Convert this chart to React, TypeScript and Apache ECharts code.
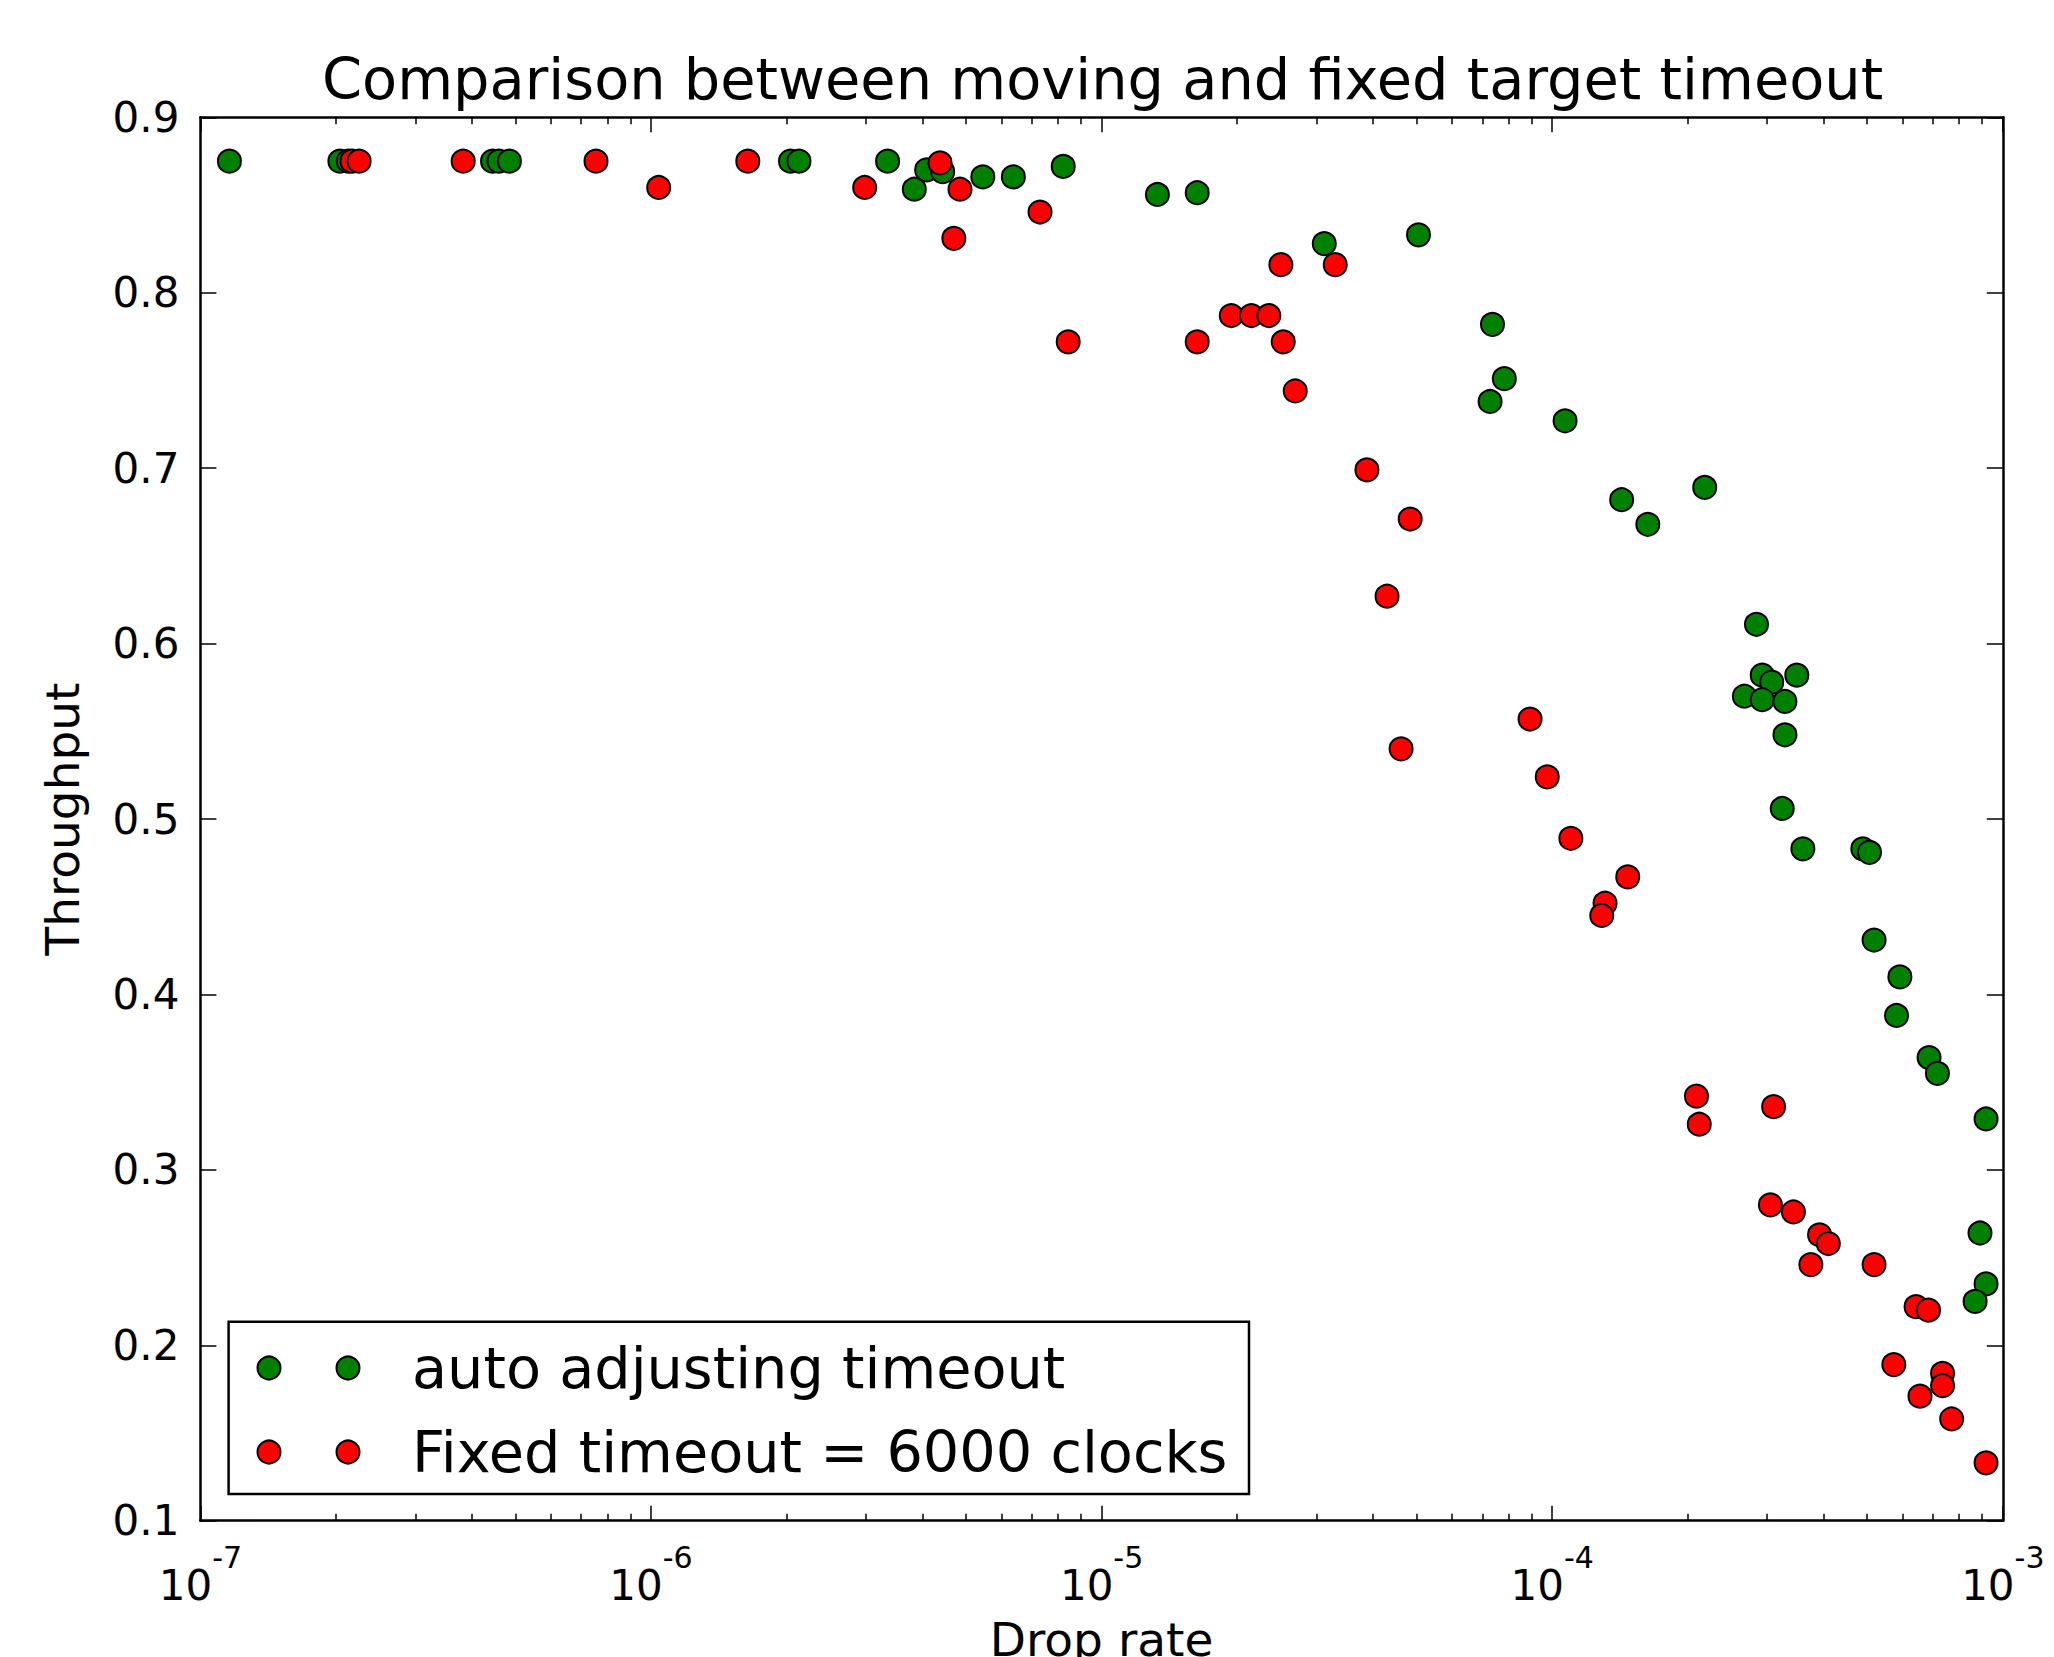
import React, { useEffect, useRef } from "react";
import * as echarts from "echarts";

// ---- data (drop rate, throughput) ----
const autoAdjusting: [number, number][] = [
  [1.16e-7, 0.875], [2.04e-7, 0.875], [2.13e-7, 0.875], [4.45e-7, 0.875], [4.6e-7, 0.875],
  [4.85e-7, 0.875], [2.04e-6, 0.875], [2.13e-6, 0.875], [3.35e-6, 0.875], [3.84e-6, 0.859],
  [4.09e-6, 0.87], [4.44e-6, 0.869], [5.45e-6, 0.866], [6.37e-6, 0.866], [8.22e-6, 0.872],
  [1.33e-5, 0.856], [1.63e-5, 0.857], [3.12e-5, 0.828], [5.05e-5, 0.833], [7.37e-5, 0.782],
  [7.83e-5, 0.751], [7.28e-5, 0.738], [1.068e-4, 0.727], [1.426e-4, 0.682], [1.63e-4, 0.668],
  [2.18e-4, 0.689], [2.84e-4, 0.611], [2.925e-4, 0.582], [3.07e-4, 0.578], [3.49e-4, 0.582],
  [2.67e-4, 0.57], [2.925e-4, 0.568], [3.285e-4, 0.567], [3.285e-4, 0.548], [3.24e-4, 0.506],
  [3.6e-4, 0.483], [4.89e-4, 0.483], [5.06e-4, 0.481], [5.18e-4, 0.431], [5.91e-4, 0.41],
  [5.81e-4, 0.388], [6.86e-4, 0.364], [7.16e-4, 0.355], [9.18e-4, 0.329], [8.9e-4, 0.264],
  [9.18e-4, 0.235], [8.68e-4, 0.225],
];

const fixedTimeout: [number, number][] = [
  [2.17e-7, 0.875], [2.25e-7, 0.875], [3.83e-7, 0.875], [7.55e-7, 0.875], [1.04e-6, 0.86],
  [1.64e-6, 0.875], [2.98e-6, 0.86], [4.38e-6, 0.874], [4.85e-6, 0.859], [4.7e-6, 0.831],
  [7.3e-6, 0.846], [8.43e-6, 0.772], [1.63e-5, 0.772], [1.94e-5, 0.787], [2.15e-5, 0.787],
  [2.35e-5, 0.787], [2.5e-5, 0.816], [3.3e-5, 0.816], [2.53e-5, 0.772], [2.69e-5, 0.744],
  [3.88e-5, 0.699], [4.84e-5, 0.671], [4.3e-5, 0.627], [4.62e-5, 0.54], [8.93e-5, 0.557],
  [9.75e-5, 0.524], [1.1e-4, 0.489], [1.471e-4, 0.467], [1.31e-4, 0.452], [1.288e-4, 0.445],
  [2.09e-4, 0.342], [2.12e-4, 0.326], [3.1e-4, 0.336], [3.05e-4, 0.28], [3.43e-4, 0.276],
  [3.92e-4, 0.263], [4.1e-4, 0.258], [3.75e-4, 0.246], [5.18e-4, 0.246], [6.42e-4, 0.222],
  [6.84e-4, 0.22], [5.73e-4, 0.189], [7.35e-4, 0.184], [7.35e-4, 0.177], [6.55e-4, 0.171],
  [7.7e-4, 0.158], [9.18e-4, 0.133],
];

const seriesNames = ["auto adjusting timeout", "Fixed timeout = 6000 clocks"];
const titleText = "Comparison between moving and fixed target timeout";
const xName = "Drop rate";
const yName = "Throughput";
const xMin = 1e-7;
const xMax = 1e-3;
const xDecades = [-7, -6, -5, -4];
const minorMultipliers = [2, 3, 4, 5, 6, 7, 8, 9];
const yMin = 0.1;
const yMax = 0.9;
const yStep = 0.1;

const W = 2054;
const H = 1657;
const GRID = { left: 200.4, right: 51.2, top: 117.3, bottom: 136.3 };
const FONT = "DejaVu Sans";
const GREEN = "#008000";
const RED = "#ff0000";

export default function App() {
  const ref = useRef<HTMLDivElement>(null);

  useEffect(() => {
    if (!ref.current) return;
    const chart = echarts.init(ref.current, null, { renderer: "svg" });

    const minorLog: number[] = [];
    xDecades.forEach((e) => minorMultipliers.forEach((m) => minorLog.push(e + Math.log10(m))));

    const spine = { show: true, lineStyle: { color: "#000", width: 2.5 } };
    const majorTick = (len: number) => ({ show: true, inside: true, length: len, lineStyle: { color: "#000", width: 1.5 } });

    const xLabel = {
      show: true,
      margin: 22,
      formatter: (v: number) => `{b|10}{s|${Math.round(Math.log10(v))}}`,
      rich: {
        b: { fontFamily: FONT, fontSize: 42, lineHeight: 64, color: "#000", verticalAlign: "bottom" },
        s: { fontFamily: FONT, fontSize: 30, lineHeight: 29, color: "#000", verticalAlign: "top" },
      },
    };

    const option: any = {
      animation: false,
      backgroundColor: "#fff",
      textStyle: { fontFamily: FONT, color: "#000" },
      grid: { ...GRID, containLabel: false, outerBoundsMode: "none", show: false },
      xAxis: [
        {
          type: "log", logBase: 10, min: xMin, max: xMax, position: "bottom",
          axisLine: spine, axisTick: majorTick(15), axisLabel: xLabel,
          splitLine: { show: false }, minorTick: { show: false },
          name: xName, nameLocation: "middle", nameGap: 95.5,
          nameTextStyle: { fontFamily: FONT, fontSize: 47, color: "#000" },
        },
        {
          type: "value", min: -7, max: -3, position: "bottom",
          axisLine: { show: false }, axisLabel: { show: false }, splitLine: { show: false },
          axisTick: { show: true, inside: true, length: 7, customValues: minorLog, lineStyle: { color: "#000", width: 1.5 } },
        },
        {
          type: "log", logBase: 10, min: xMin, max: xMax, position: "top",
          axisLine: spine, axisTick: majorTick(15), axisLabel: { show: false },
          splitLine: { show: false },
        },
        {
          type: "value", min: -7, max: -3, position: "top",
          axisLine: { show: false }, axisLabel: { show: false }, splitLine: { show: false },
          axisTick: { show: true, inside: true, length: 7, customValues: minorLog, lineStyle: { color: "#000", width: 1.5 } },
        },
      ],
      yAxis: [
        {
          type: "value", min: yMin, max: yMax, interval: yStep, position: "left",
          axisLine: spine, axisTick: majorTick(16),
          axisLabel: { margin: 21, fontFamily: FONT, fontSize: 42, color: "#000", formatter: (v: number) => v.toFixed(1) },
          splitLine: { show: false },
          name: yName, nameLocation: "middle", nameGap: 114, nameRotate: 90,
          nameTextStyle: { fontFamily: FONT, fontSize: 47, color: "#000" },
        },
        {
          type: "value", min: yMin, max: yMax, interval: yStep, position: "right",
          axisLine: spine, axisTick: majorTick(16), axisLabel: { show: false },
          splitLine: { show: false },
        },
      ],
      series: [
        {
          name: seriesNames[0], type: "scatter", xAxisIndex: 0, yAxisIndex: 0,
          data: autoAdjusting, symbol: "circle", symbolSize: 23, silent: true, z: 2,
          itemStyle: { color: GREEN, borderColor: "#000", borderWidth: 2, opacity: 1 },
        },
        {
          name: seriesNames[1], type: "scatter", xAxisIndex: 0, yAxisIndex: 0,
          data: fixedTimeout, symbol: "circle", symbolSize: 23, silent: true, z: 3,
          itemStyle: { color: RED, borderColor: "#000", borderWidth: 2, opacity: 1 },
        },
      ],
      graphic: [
        {
          type: "text", x: 1102.6, y: 79.6, silent: true,
          style: { text: titleText, fill: "#000", font: `57.4px "${FONT}"`, align: "center", verticalAlign: "middle" },
        },
        {
          type: "group", silent: true, z: 100,
          children: [
            {
              type: "rect", shape: { x: 228.6, y: 1321.7, width: 1020.4, height: 172.3 },
              style: { fill: "#fff", stroke: "#000", lineWidth: 2.5 },
            },
            { type: "circle", shape: { cx: 269, cy: 1368, r: 11.5 }, style: { fill: GREEN, stroke: "#000", lineWidth: 2 } },
            { type: "circle", shape: { cx: 348, cy: 1368, r: 11.5 }, style: { fill: GREEN, stroke: "#000", lineWidth: 2 } },
            { type: "circle", shape: { cx: 269, cy: 1452, r: 11.5 }, style: { fill: RED, stroke: "#000", lineWidth: 2 } },
            { type: "circle", shape: { cx: 348, cy: 1452, r: 11.5 }, style: { fill: RED, stroke: "#000", lineWidth: 2 } },
            {
              type: "text", x: 412, y: 1368,
              style: { text: seriesNames[0], fill: "#000", font: `57.3px "${FONT}"`, align: "left", verticalAlign: "middle" },
            },
            {
              type: "text", x: 412, y: 1452,
              style: { text: seriesNames[1], fill: "#000", font: `57.3px "${FONT}"`, align: "left", verticalAlign: "middle" },
            },
          ],
        },
      ],
    };

    chart.setOption(option);
    return () => chart.dispose();
  }, []);

  return (
    <div
      ref={ref}
      style={{ position: "fixed", left: 0, top: 0, width: W, height: H, background: "#fff" }}
    />
  );
}
